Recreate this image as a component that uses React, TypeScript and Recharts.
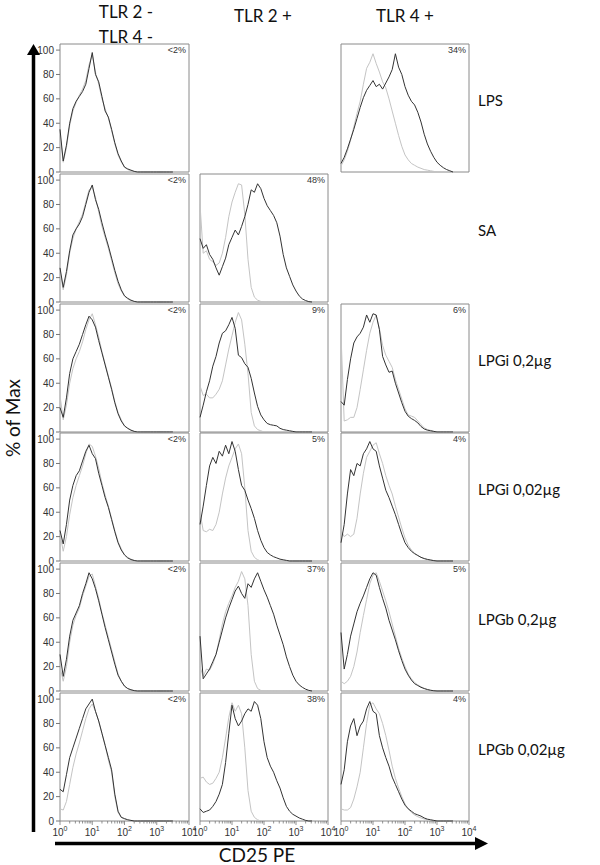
import React from 'react';
import { LineChart, Line, XAxis, YAxis, ReferenceArea } from 'recharts';

// channel positions (log10 of CD25 PE fluorescence)
const logBins = [0, 0.1, 0.2, 0.3, 0.4, 0.5, 0.6, 0.7, 0.8, 0.9, 1.0, 1.1, 1.2, 1.3, 1.4, 1.5, 1.6, 1.7, 1.8, 1.9, 2.0, 2.1, 2.2, 2.3, 2.4, 2.5, 2.6, 2.7, 2.8, 2.9, 3.0, 3.1, 3.2, 3.3, 3.4, 3.5];

const rowLabels = ['LPS', 'SA', 'LPGi 0,2µg', 'LPGi 0,02µg', 'LPGb 0,2µg', 'LPGb 0,02µg'];
const yTicks = [0, 20, 40, 60, 80, 100];
const xMajorTicks = [0, 1, 2, 3, 4];
const xMinorOffsets = [0.301, 0.477, 0.602, 0.699, 0.778, 0.845, 0.903, 0.954];

// Column 1: TLR 2 - / TLR 4 -
const negLpsCtrl = [30, 8, 20, 38, 50, 57, 63, 68, 75, 88, 96, 82, 72, 60, 52, 44, 34, 23, 14, 8, 4, 2, 1, 0.5];
const negLpsStim = [35, 9, 22, 40, 52, 58, 62, 66, 72, 85, 98, 80, 74, 62, 50, 45, 35, 24, 15, 9, 4, 2.5, 1.5, 0.5];
const negSaCtrl = [25, 10, 22, 40, 52, 60, 66, 72, 82, 92, 94, 86, 74, 62, 53, 44, 34, 24, 15, 9, 5, 2.5, 1, 0.3];
const negSaStim = [28, 12, 25, 42, 55, 60, 64, 70, 80, 90, 96, 84, 76, 65, 55, 46, 36, 26, 17, 10, 5, 3, 1.5, 0.5];
const negLpgi2Ctrl = [30, 10, 22, 40, 52, 60, 66, 74, 84, 92, 97, 88, 78, 66, 56, 46, 36, 25, 16, 10, 5, 3, 1.5, 0.5];
const negLpgi2Stim = [20, 12, 28, 48, 60, 66, 72, 80, 88, 95, 92, 86, 75, 65, 55, 45, 35, 24, 15, 9, 5, 3, 1.5, 0.5];
const negLpgi02Ctrl = [22, 8, 20, 38, 52, 62, 70, 78, 88, 96, 94, 86, 76, 64, 54, 45, 35, 25, 16, 10, 5, 3, 1.5, 0.5];
const negLpgi02Stim = [25, 14, 30, 50, 62, 70, 74, 82, 90, 95, 88, 84, 72, 62, 52, 44, 34, 24, 15, 9, 5, 2.5, 1.2, 0.4];
const negLpgb2Ctrl = [20, 8, 20, 40, 54, 62, 68, 78, 86, 94, 96, 86, 76, 64, 54, 44, 34, 24, 14, 8, 4, 2, 1, 0.3];
const negLpgb2Stim = [30, 12, 26, 45, 58, 64, 70, 80, 88, 97, 92, 84, 74, 63, 52, 42, 32, 22, 13, 8, 4, 2, 1, 0.3];
const negLpgb02Ctrl = [10, 9, 16, 30, 44, 55, 64, 74, 84, 92, 96, 90, 82, 72, 62, 50, 40, 20, 7, 3, 1.5, 0.8, 0.3];
const negLpgb02Stim = [26, 24, 38, 52, 60, 68, 76, 84, 92, 96, 100, 90, 82, 72, 62, 52, 42, 22, 8, 3, 2, 1, 0.5];

// Column 2: TLR 2 +
const tlr2SaCtrl = [80, 40, 42, 35, 33, 30, 32, 40, 53, 70, 82, 90, 97, 96, 72, 35, 12, 4, 1.5, 0.5];
const tlr2SaStim = [52, 44, 47, 39, 35, 28, 22, 29, 36, 47, 53, 59, 55, 62, 70, 80, 92, 90, 97, 93, 85, 79, 75, 71, 65, 54, 39, 28, 21, 14, 9, 5, 2.5, 1.2, 0.3];
const tlr2Lpgi2Ctrl = [38, 30, 31, 28, 28, 31, 35, 42, 55, 68, 79, 90, 98, 92, 72, 48, 16, 5, 2, 1];
const tlr2Lpgi2Stim = [12, 22, 33, 42, 54, 62, 73, 81, 83, 88, 94, 85, 63, 61, 56, 53, 44, 32, 21, 14, 10, 7, 6, 5.5, 5, 3, 2, 1.5, 1, 0.5];
const tlr2Lpgi02Ctrl = [40, 25, 24, 26, 25, 30, 40, 55, 68, 78, 85, 92, 96, 88, 60, 25, 8, 3, 1];
const tlr2Lpgi02Stim = [30, 45, 62, 78, 85, 80, 90, 86, 95, 88, 98, 90, 75, 62, 58, 50, 43, 35, 25, 17, 11, 7, 5, 3.5, 2.5, 1.5, 1, 0.5];
const tlr2Lpgb2Ctrl = [20, 12, 18, 17, 22, 30, 42, 55, 65, 72, 78, 85, 90, 98, 92, 70, 30, 8, 2, 0.5];
const tlr2Lpgb2Stim = [45, 10, 14, 18, 24, 30, 40, 50, 60, 68, 75, 82, 86, 80, 76, 88, 85, 92, 97, 90, 83, 77, 70, 63, 54, 46, 38, 28, 20, 13, 8, 5, 3, 1.5, 0.5];
const tlr2Lpgb02Ctrl = [35, 36, 32, 30, 31, 35, 40, 52, 68, 85, 97, 90, 95, 88, 60, 25, 8, 3, 1];
const tlr2Lpgb02Stim = [10, 7, 8, 9, 12, 16, 22, 30, 48, 72, 95, 84, 78, 82, 88, 92, 90, 98, 95, 84, 65, 52, 45, 40, 33, 27, 19, 12, 8, 5.5, 4, 2.5, 1.5, 0.5];

// Column 3: TLR 4 +
const tlr4LpsCtrl = [5, 10, 17, 26, 37, 48, 58, 72, 85, 90, 97, 89, 82, 74, 69, 60, 50, 40, 30, 21, 14, 10, 7, 5.5, 4, 3, 2, 1.5, 1, 0.5];
const tlr4LpsStim = [7, 12, 19, 27, 35, 44, 53, 61, 67, 71, 75, 70, 72, 68, 73, 78, 84, 97, 86, 80, 70, 63, 58, 55, 49, 41, 31, 23, 17, 12, 8, 5.5, 3.5, 2, 1];
const tlr4Lpgi2Ctrl = [80, 9, 10, 12, 12, 20, 35, 51, 67, 81, 90, 96, 85, 71, 63, 58, 53, 43, 35, 27, 19, 14, 13, 12, 9, 6, 3.5, 2, 1.3, 0.5];
const tlr4Lpgi2Stim = [25, 22, 43, 60, 73, 78, 81, 86, 96, 90, 97, 96, 84, 62, 55, 49, 50, 40, 32, 24, 17, 13, 11, 9.5, 7.5, 4.5, 2.5, 1.5, 1, 0.5];
const tlr4Lpgi02Ctrl = [25, 20, 22, 20, 22, 35, 55, 72, 85, 90, 95, 97, 88, 80, 70, 62, 55, 45, 36, 27, 19, 13, 9, 6.5, 4.5, 3, 2, 1.3, 0.8, 0.3];
const tlr4Lpgi02Stim = [15, 30, 55, 75, 70, 80, 78, 88, 92, 98, 92, 90, 78, 68, 58, 52, 45, 38, 30, 22, 15, 11, 8, 6, 4.5, 3, 2, 1.3, 0.8, 0.3];
const tlr4Lpgb2Ctrl = [8, 6, 8, 12, 20, 32, 48, 62, 75, 88, 95, 97, 90, 82, 74, 65, 55, 45, 35, 27, 20, 14, 10, 7, 5, 3.5, 2.2, 1.3, 0.6, 0.2];
const tlr4Lpgb2Stim = [48, 18, 30, 45, 55, 65, 72, 78, 85, 92, 97, 95, 85, 76, 68, 58, 50, 42, 33, 25, 18, 13, 9, 6, 4.5, 3, 2, 1.2, 0.6, 0.2];
const tlr4Lpgb02Ctrl = [10, 9, 9, 11, 18, 28, 40, 60, 80, 95, 97, 92, 88, 80, 70, 58, 45, 35, 27, 20, 14, 10, 7, 5, 3.5, 2.5, 1.7, 1, 0.5];
const tlr4Lpgb02Stim = [30, 42, 65, 78, 84, 70, 78, 82, 92, 98, 90, 88, 70, 60, 52, 45, 36, 30, 24, 18, 13, 10, 8, 6, 5, 4, 2.5, 1.5, 1, 0.5];

type PanelDef = { row: number; col: number; pct: string; ctrl: number[]; stim: number[] };

const panels: PanelDef[] = [
  { row: 0, col: 0, pct: '<2%', ctrl: negLpsCtrl, stim: negLpsStim },
  { row: 1, col: 0, pct: '<2%', ctrl: negSaCtrl, stim: negSaStim },
  { row: 2, col: 0, pct: '<2%', ctrl: negLpgi2Ctrl, stim: negLpgi2Stim },
  { row: 3, col: 0, pct: '<2%', ctrl: negLpgi02Ctrl, stim: negLpgi02Stim },
  { row: 4, col: 0, pct: '<2%', ctrl: negLpgb2Ctrl, stim: negLpgb2Stim },
  { row: 5, col: 0, pct: '<2%', ctrl: negLpgb02Ctrl, stim: negLpgb02Stim },
  { row: 1, col: 1, pct: '48%', ctrl: tlr2SaCtrl, stim: tlr2SaStim },
  { row: 2, col: 1, pct: '9%', ctrl: tlr2Lpgi2Ctrl, stim: tlr2Lpgi2Stim },
  { row: 3, col: 1, pct: '5%', ctrl: tlr2Lpgi02Ctrl, stim: tlr2Lpgi02Stim },
  { row: 4, col: 1, pct: '37%', ctrl: tlr2Lpgb2Ctrl, stim: tlr2Lpgb2Stim },
  { row: 5, col: 1, pct: '38%', ctrl: tlr2Lpgb02Ctrl, stim: tlr2Lpgb02Stim },
  { row: 0, col: 2, pct: '34%', ctrl: tlr4LpsCtrl, stim: tlr4LpsStim },
  { row: 2, col: 2, pct: '6%', ctrl: tlr4Lpgi2Ctrl, stim: tlr4Lpgi2Stim },
  { row: 3, col: 2, pct: '4%', ctrl: tlr4Lpgi02Ctrl, stim: tlr4Lpgi02Stim },
  { row: 4, col: 2, pct: '5%', ctrl: tlr4Lpgb2Ctrl, stim: tlr4Lpgb2Stim },
  { row: 5, col: 2, pct: '4%', ctrl: tlr4Lpgb02Ctrl, stim: tlr4Lpgb02Stim },
];

const FONT_TICK = '"Liberation Sans", Arial, sans-serif';
const FONT_LABEL = 'Lato, "Open Sans", sans-serif';

const COL_LEFT = [60, 200, 341];
const COL_W = [129, 128, 128];
const ROW_TOP0 = 44;
const ROW_PITCH = 129.8;
const BOX_H = 128;
const PADX = 12;
const PADY = 6;

const xTicks: number[] = [...xMajorTicks];
[0, 1, 2, 3].forEach((d) => xMinorOffsets.forEach((o) => xTicks.push(d + o)));
xTicks.sort((a, b) => a - b);

function XTick(props: any) {
  const { x, y, payload } = props;
  const v = payload.value;
  const major = Math.abs(v - Math.round(v)) < 1e-6;
  return (
    <g>
      <line x1={x} x2={x} y1={y} y2={y + (major ? 4 : 2.5)} stroke="#777" strokeWidth={0.8} />
      {major && (
        <text x={x} y={y + 15} textAnchor="middle" fontSize={10} fill="#333" fontFamily={FONT_TICK}>
          10<tspan dy={-5} fontSize={7}>{Math.round(v)}</tspan>
        </text>
      )}
    </g>
  );
}

function Panel({ p }: { p: PanelDef }) {
  const bottom = p.row === 5;
  const yW = p.col === 0 ? 38 : 0;
  const xH = bottom ? 22 : 0;
  const left = COL_LEFT[p.col] - yW - PADX;
  const top = ROW_TOP0 + p.row * ROW_PITCH - PADY;
  const data = logBins.map((x, i) => ({ x, ctrl: p.ctrl[i] ?? 0, stim: p.stim[i] ?? 0 }));
  return (
    <div style={{ position: 'absolute', left, top }}>
      <LineChart
        width={COL_W[p.col] + yW + 2 * PADX}
        height={BOX_H + xH + 2 * PADY}
        data={data}
        margin={{ top: PADY, right: PADX, bottom: PADY, left: PADX }}
      >
        <XAxis
          type="number"
          dataKey="x"
          domain={[0, 4]}
          ticks={xTicks}
          interval={0}
          hide={!bottom}
          height={xH}
          axisLine={false}
          tickLine={false}
          tickSize={0}
          tickMargin={0}
          tick={<XTick />}
        />
        <YAxis
          type="number"
          domain={[0, 105]}
          ticks={yTicks}
          interval={0}
          hide={p.col !== 0}
          width={yW}
          axisLine={false}
          tickSize={4}
          tickLine={{ stroke: '#777' }}
          tick={{ fontSize: 10, fill: '#333', fontFamily: FONT_TICK }}
        />
        <Line dataKey="ctrl" type="linear" stroke="#c4c4c4" strokeWidth={1} dot={false} isAnimationActive={false} />
        <Line dataKey="stim" type="linear" stroke="#333333" strokeWidth={1} dot={false} isAnimationActive={false} />
        <ReferenceArea
          x1={0}
          x2={4}
          y1={0}
          y2={105}
          fill="none"
          stroke="#8a8a8a"
          strokeWidth={1}
          label={{ value: p.pct, position: 'insideTopRight', offset: 3, fontSize: 9, fill: '#333', fontFamily: FONT_TICK }}
        />
      </LineChart>
    </div>
  );
}

export default function App() {
  const rowCenters = rowLabels.map((_, i) => ROW_TOP0 + i * ROW_PITCH + 62);
  return (
    <div style={{ position: 'absolute', left: 0, top: 0, width: 600, height: 865, background: '#fff', overflow: 'hidden' }}>
      {panels.map((p) => (
        <Panel key={`${p.row}-${p.col}`} p={p} />
      ))}
      <svg width={600} height={865} style={{ position: 'absolute', left: 0, top: 0, pointerEvents: 'none' }}>
        <g fontFamily={FONT_LABEL} fill="#111">
          <text x={126} y={18} fontSize={17} textAnchor="middle">TLR 2 -</text>
          <text x={126} y={43} fontSize={17} textAnchor="middle">TLR 4 -</text>
          <text x={263} y={22} fontSize={17} textAnchor="middle">TLR 2 +</text>
          <text x={405} y={22} fontSize={17} textAnchor="middle">TLR 4 +</text>
          {rowLabels.map((l, i) => (
            <text key={l} x={478} y={rowCenters[i]} fontSize={15}>{l}</text>
          ))}
          <text transform="translate(20,418) rotate(-90)" fontSize={19} textAnchor="middle">% of Max</text>
          <text x={257} y={862} fontSize={19} textAnchor="middle">CD25 PE</text>
        </g>
        <line x1={33.5} y1={832} x2={33.5} y2={52} stroke="#000" strokeWidth={3.5} />
        <polygon points="33.5,44 27,55 40,55" fill="#000" />
        <line x1={55} y1={843.5} x2={478} y2={843.5} stroke="#000" strokeWidth={3.5} />
        <polygon points="488,843.5 475,837 475,850" fill="#000" />
      </svg>
    </div>
  );
}
